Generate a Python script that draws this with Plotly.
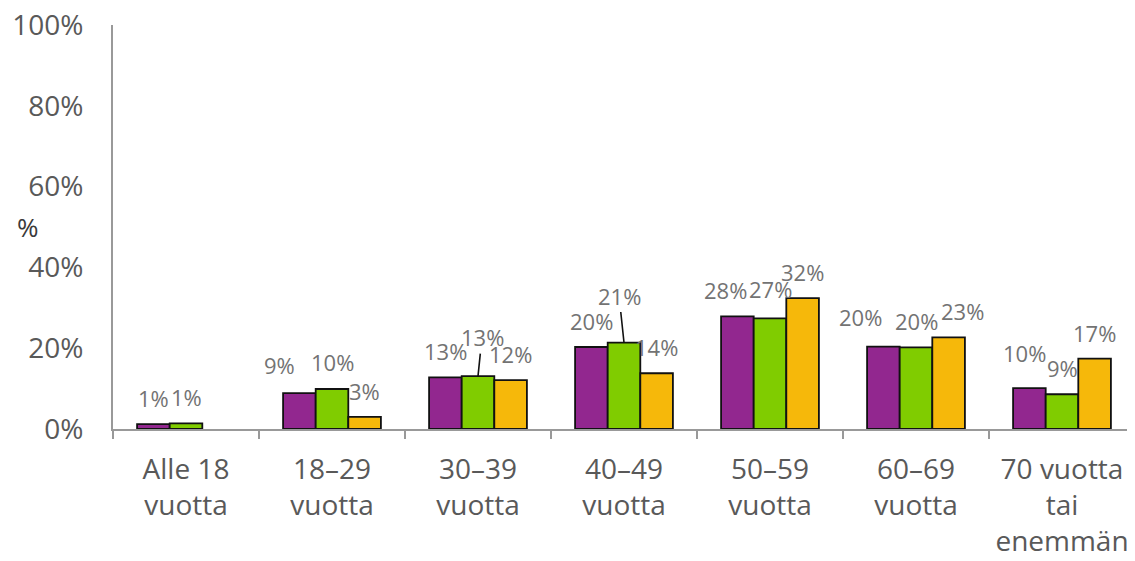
import plotly.graph_objects as go

categories = ["Alle 18<br>vuotta", "18–29<br>vuotta", "30–39<br>vuotta", "40–49<br>vuotta",
              "50–59<br>vuotta", "60–69<br>vuotta", "70 vuotta<br>tai<br>enemmän"]

purple_vals = [1.2, 8.9, 12.8, 20.3, 27.9, 20.4, 10.1]
green_vals = [1.4, 9.9, 13.1, 21.4, 27.4, 20.2, 8.6]
yellow_vals = [None, 3.0, 12.1, 13.8, 32.4, 22.7, 17.4]

series = [
    ("Sarja 1", purple_vals, "#92278f"),
    ("Sarja 2", green_vals, "#80cc00"),
    ("Sarja 3", yellow_vals, "#f6b80a"),
]

# hand-placed label nudges (px) like in the original, (series, category): (dx, dy)
nudges = {(0, 1): (-20, 2), (1, 1): (0, 1), (0, 4): (-12, 0), (1, 4): (0, 3),
          (0, 5): (-23, 4), (2, 5): (14, 0), (0, 6): (-5, 9)}
# labels pulled away with a leader line
leaders = {(1, 2): (4, 39), (1, 3): (-5, 47)}

# page body has an 8px margin, so the figure is a bit smaller than the window
fig_w, fig_h = 1127, 553
plot_w = 1022
bargap = 0.33
bar_px = plot_w / len(categories) * (1 - bargap) / len(series)

fig = go.Figure()
annotations = []
for i, (name, vals, color) in enumerate(series):
    fig.add_trace(go.Bar(
        x=categories, y=vals, name=name,
        marker=dict(color=color, line=dict(color="#111111", width=1.8)),
    ))
    offset = (i - 1) * bar_px
    for k, v in enumerate(vals):
        if v is None:
            continue
        label = f"{round(v)}%"
        if (i, k) in leaders:
            dx, dy = leaders[(i, k)]
            annotations.append(dict(
                x=categories[k], y=v, xshift=offset, text=label,
                showarrow=True, arrowhead=0, arrowwidth=1.6, arrowcolor="#111111",
                ax=dx, ay=-dy, font=dict(size=22, color="#737373"),
            ))
        else:
            dx, dy = nudges.get((i, k), (0, 0))
            annotations.append(dict(
                x=categories[k], y=v, xshift=offset + dx, yshift=26 + dy,
                yanchor="middle", text=label, showarrow=False,
                font=dict(size=22, color="#737373"),
            ))

annotations.append(dict(
    text="%", xref="paper", yref="paper", x=-0.083, y=0.5, xanchor="center",
    showarrow=False, font=dict(size=26, color="#3a3a3a"),
))

fig.update_layout(
    width=fig_w, height=fig_h,
    margin=dict(l=105, r=0, t=17, b=132),
    paper_bgcolor="white", plot_bgcolor="white",
    barmode="group", bargap=bargap, bargroupgap=0,
    showlegend=False,
    font=dict(family="Open Sans, sans-serif", color="#595959"),
    xaxis=dict(
        automargin=False,
        showline=True, linecolor="#999999", linewidth=2,
        ticks="outside", tickson="boundaries", ticklen=8, tickcolor="#999999", tickwidth=2,
        tickfont=dict(size=28, color="#595959"), ticklabelstandoff=14,
    ),
    yaxis=dict(
        automargin=False, ticklabeloverflow="allow",
        range=[0, 100], dtick=20, ticksuffix="%",
        showline=True, linecolor="#999999", linewidth=2,
        showgrid=False, zeroline=False, ticks="",
        tickfont=dict(size=28, color="#595959"), ticklabelstandoff=22,
    ),
    annotations=annotations,
)

fig.write_html("out.html")
